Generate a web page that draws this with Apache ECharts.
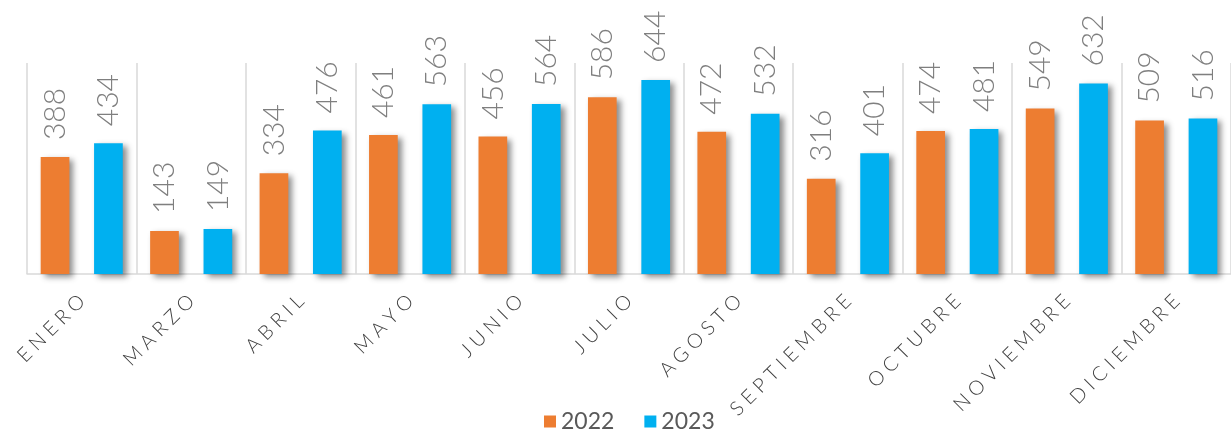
<!DOCTYPE html>
<html>
<head>
<meta charset="utf-8">
<script src="https://cdn.jsdelivr.net/npm/echarts@6/dist/echarts.min.js"></script>
<style>
  html, body { margin: 0; padding: 0; background: #fff; }
  #chart { width: 1231px; height: 434px; }
</style>
</head>
<body>
<div id="chart"></div>
<script>
// datos
const meses = ["ENERO", "MARZO", "ABRIL", "MAYO", "JUNIO", "JULIO", "AGOSTO", "SEPTIEMBRE", "OCTUBRE", "NOVIEMBRE", "DICIEMBRE"];
const valores2022 = [388, 143, 334, 461, 456, 586, 472, 316, 474, 549, 509];
const valores2023 = [434, 149, 476, 563, 564, 644, 532, 401, 481, 632, 516];
const anios = ["2022", "2023"];

const colores = ["#ED7D31", "#00B0F0"];
const fuente = "Lato, 'Noto Sans', sans-serif";

// etiqueta de valor girada encima de cada barra
const etiqueta = {
  show: true,
  position: "top",
  rotate: 90,
  align: "left",
  verticalAlign: "middle",
  distance: 17,
  color: "#7f7f7f",
  fontSize: 30,
  fontWeight: 300,
  fontFamily: fuente,
};

const sombra = {
  shadowColor: "rgba(0,0,0,0.45)",
  shadowBlur: 6,
  shadowOffsetX: 4,
  shadowOffsetY: 3,
};

const chart = echarts.init(document.getElementById("chart"));
chart.setOption({
  animation: false,
  color: colores,
  grid: { left: 27, right: 0, top: 63, bottom: 160 },
  legend: {
    data: anios,
    left: 539,
    top: 405,
    icon: "rect",
    itemWidth: 12,
    itemHeight: 12,
    itemGap: 30,
    textStyle: { color: "#595959", fontSize: 23, fontFamily: fuente },
  },
  xAxis: {
    type: "category",
    data: meses,
    axisLine: { lineStyle: { color: "#d9d9d9", width: 1.5 } },
    axisTick: { show: false },
    splitLine: { show: true, lineStyle: { color: "#d9d9d9", width: 1.5 } },
    axisLabel: {
      interval: 0,
      rotate: 45,
      margin: 24,
      color: "#3f3f3f",
      fontSize: 20,
      fontWeight: 300,
      fontFamily: fuente,
      // espaciado entre letras
      formatter: (v) => v.split("").join("\u2005"),
    },
  },
  yAxis: {
    type: "value",
    min: 0,
    max: 700,
    show: false,
    splitLine: { show: false },
  },
  series: [
    {
      name: anios[0],
      type: "bar",
      data: valores2022,
      barGap: "86%",
      barCategoryGap: "25%",
      itemStyle: sombra,
      label: etiqueta,
    },
    {
      name: anios[1],
      type: "bar",
      data: valores2023,
      itemStyle: sombra,
      label: etiqueta,
    },
  ],
});
</script>
</body>
</html>
